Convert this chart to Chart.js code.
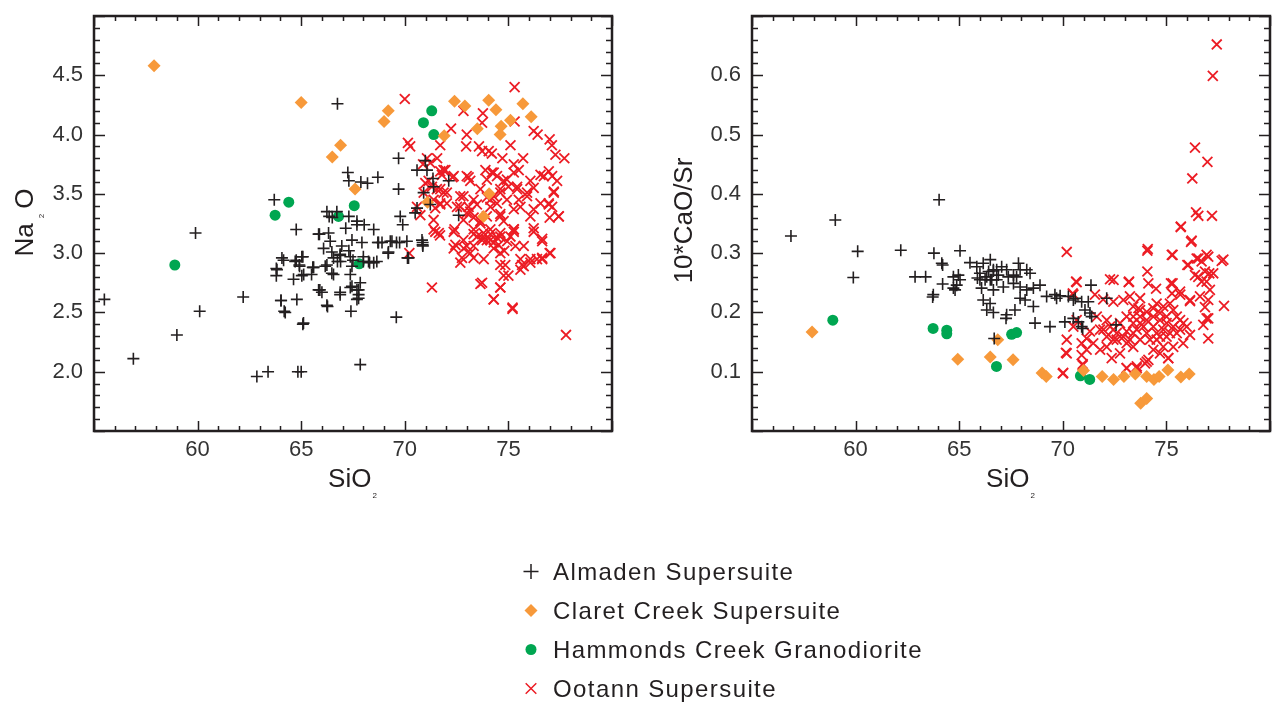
<!DOCTYPE html>
<html>
<head>
<meta charset="utf-8">
<title>SiO2 variation diagrams</title>
<style>
  body { margin: 0; width: 1273px; height: 702px; overflow: hidden; position: relative; background: #fff;
         font-family: "Liberation Sans", Arial, sans-serif; }
  .panel { position: absolute; top: 0; }
  #legend { position: absolute; left: 515px; top: 552px; }
  .item { height: 39px; display: flex; align-items: center; font-size: 24px; letter-spacing: 1.4px; color: #231f20; }
  .item canvas { width: 32px; height: 39px; margin-right: 6px; }
</style>
</head>
<body>
<div class="panel" style="left:0"><canvas id="naChart" width="640" height="500"></canvas></div>
<div class="panel" style="left:640px"><canvas id="srChart" width="633" height="500"></canvas></div>
<div id="legend"></div>

<script src="https://cdn.jsdelivr.net/npm/chart.js"></script>
<script>
// SiO2 vs Na2O
const naAlmaden = [
  [55.5,2.61],[56.9,2.11],[59.0,2.31],[60.1,2.51],[59.9,3.17],[62.2,2.63],[62.86,1.96],[63.4,2.0],[64.84,2.0],[65.0,2.0],
  [63.8,2.87],[63.8,2.81],[64.07,2.96],[64.15,2.94],[64.03,2.60],[64.18,2.51],[64.76,2.94],[64.92,2.89],[65.08,2.97],[64.63,2.78],
  [64.79,2.61],[65.08,2.40],[65.03,2.81],[65.5,2.82],[65.56,2.88],[65.84,2.69],[65.84,3.16],[63.7,3.45],[64.76,3.20],
  [69.59,2.46],[67.85,2.06],[67.4,2.51],[66.27,2.55],[66.88,2.65],[67.69,2.61],[67.77,2.65],[67.77,2.69],[65.9,2.69],[66.0,2.67],
  [70.13,2.96],[70.86,3.07],[70.86,3.09],[69.6,3.09],[69.3,3.10],[68.7,3.09],[68.9,3.09],[69.2,3.0],[68.3,2.92],[68.65,2.93],[68.0,2.93],
  [67.45,2.89],[66.56,2.96],[66.88,2.99],[66.9,2.93],[66.16,2.89],[66.48,2.83],[65.6,2.88],[67.85,2.75],[67.37,2.71],
  [66.75,4.26],[69.7,3.80],[67.25,3.68],[67.3,3.61],[67.88,3.60],[68.2,3.59],[68.7,3.64],[69.7,3.54],
  [66.24,3.35],[66.72,3.35],[66.35,3.31],[66.5,3.30],[67.3,3.31],[67.69,3.27],[67.69,3.24],[68.04,3.24],[68.5,3.20],[67.15,3.21],
  [65.88,3.16],[66.32,3.17],[66.4,3.10],[67.45,3.11],[67.93,3.09],[66.08,3.04],[66.96,3.06],[67.3,3.02],
  [68.73,3.09],[69.38,3.10],[69.75,3.09],[70.1,3.10],[70.83,3.11],[70.87,3.06],[69.21,3.01],[70.18,2.96],
  [66.48,3.01],[66.88,2.98],[66.75,2.93],[67.37,2.97],[67.5,2.94],[68.0,2.97],[68.25,2.93],[68.5,2.92],
  [64.71,2.93],[65.03,2.97],[64.91,2.90],[63.83,2.86],[65.12,2.82],[66.24,2.90],[66.56,2.82],[67.37,2.82],[67.45,2.72],[67.69,2.69],[67.77,2.62],
  [66.88,2.67],[66.24,2.56],[64.02,2.60],[64.23,2.50],[65.11,2.41],
  [70.99,3.78],[70.59,3.70],[71.07,3.70],[71.36,3.63],[71.39,3.56],[72.12,3.61],[70.91,3.51],[71.23,3.41],[70.59,3.38],[70.5,3.34],
  [69.78,3.31],[69.9,3.24],[72.6,3.32]
];
const naClaret = [
  [57.9,4.58],[65.0,4.27],[69.2,4.20],[69.0,4.11],[66.9,3.91],[66.5,3.81],[67.6,3.54],[72.4,4.28],[72.9,4.24],[74.05,4.29],
  [74.4,4.21],[75.7,4.26],[76.1,4.15],[75.1,4.12],[74.65,4.07],[74.6,4.0],[73.5,4.05],[71.9,3.99],[74.07,3.50],[73.8,3.31],[71.1,3.43]
];
const naHammonds = [
  [58.9,2.90],[63.74,3.32],[64.4,3.43],[67.56,3.40],[66.8,3.31],[67.8,2.91],[71.3,4.20],[70.9,4.10],[71.4,4.00]
];
const naOotann = [
  [75.3,4.40],[70.0,4.30],[72.83,4.20],[73.77,4.18],[73.73,4.10],[72.23,4.05],[72.99,4.0],[72.96,3.90],[71.71,3.91],[70.15,3.93],[70.26,3.90],
  [73.58,3.90],[73.73,3.86],[74.05,3.86],[74.2,3.84],[75.1,3.91],[75.3,4.11],[76.22,4.03],[76.41,4.0],[76.99,3.96],[77.1,3.91],[77.27,3.83],[77.7,3.80],
  [74.71,3.80],[75.26,3.75],[75.71,3.80],[75.5,3.70],[75.26,3.68],[71.07,3.80],[71.56,3.80],[71.23,3.76],
  [73.89,3.70],[74.2,3.68],[74.45,3.65],[73.96,3.62],[72.99,3.65],[73.16,3.61],[71.87,3.70],[72.36,3.65],[71.79,3.66],
  [76.55,3.66],[76.95,3.69],[77.11,3.65],[77.35,3.61],[77.19,3.52],[76.06,3.61],[76.22,3.55],[75.9,3.51],
  [74.77,3.61],[75.0,3.56],[75.42,3.54],[74.61,3.51],[74.93,3.45],[75.5,3.45],[75.58,3.39],[75.26,3.37],
  [76.55,3.42],[76.95,3.42],[77.11,3.39],[76.99,3.30],[77.43,3.31],[76.22,3.37],[76.06,3.31],[76.22,3.21],[76.63,3.10],
  [73.96,3.47],[74.29,3.48],[74.45,3.42],[74.13,3.39],[73.32,3.45],[73.48,3.41],[73.08,3.39],
  [72.68,3.48],[72.52,3.39],[72.03,3.42],[71.87,3.51],[71.55,3.54],[71.31,3.56],[70.99,3.59],[70.91,3.51],[71.39,3.45],[71.71,3.42],
  [71.47,3.38],[70.59,3.39],[70.75,3.32],
  [72.99,3.34],[72.83,3.28],[73.32,3.30],[73.65,3.27],[73.96,3.31],[74.61,3.33],[74.77,3.27],[75.26,3.20],[75.1,3.14],
  [71.39,3.20],[72.36,3.18],[73.32,3.20],[73.8,3.17],[74.13,3.20],[74.45,3.13],[73.73,3.11],[72.83,3.11],
  [71.47,3.18],[71.7,3.15],[73.32,3.16],[73.73,3.13],[73.96,3.11],[74.13,3.16],[74.29,3.09],[74.61,3.14],[74.53,3.07],[74.94,3.10],
  [75.26,3.18],[76.22,3.18],
  [72.99,3.06],[73.16,3.0],[72.76,2.96],[72.68,2.92],[73.32,2.96],[73.81,2.95],[74.29,3.04],[74.61,3.0],[74.8,3.02],
  [75.34,3.06],[75.74,3.06],[75.58,2.95],[75.66,2.90],[75.58,2.86],[76.06,2.95],[76.38,2.95],[76.63,2.96],[76.99,3.0],[76.63,3.12],
  [74.61,2.90],[74.85,2.90],[74.77,2.81],[75.0,2.81],[74.61,2.71],[73.73,2.75],[74.29,2.61],[75.2,2.53],[71.31,2.71],[70.22,3.00],
  [77.78,2.31],[72.36,3.04],[72.4,3.20],
  [70.88,3.75],[71.15,3.61],[71.71,3.69],[71.96,3.70],[72.3,3.64],[71.71,3.54],[72.03,3.51],[71.71,3.41],[71.39,3.28],[71.64,3.17],
  [72.83,3.48],[73.08,3.64],[74.29,3.68],[74.93,3.62],[75.42,3.56],[75.9,3.48],[76.71,3.65],[76.95,3.41],[77.19,3.51],[77.43,3.31],
  [77.03,3.0],[76.63,2.95],[76.06,2.92],[75.74,2.89],[73.65,2.74],[74.61,2.71],[74.29,2.61],[75.2,2.54],
  [72.84,3.04],[72.44,3.07],[73.32,3.06],[73.49,3.14],[74.13,3.11],[74.61,3.17],[75.26,3.20],[74.61,3.31],[73.65,3.25],[73.16,3.35],
  [74.13,3.45],[74.61,3.54],[73.65,3.54],[72.68,3.39]
];

// SiO2 vs 10*CaO/Sr
const srAlmaden = [
  [56.88,0.329],[59.02,0.356],[60.1,0.303],[59.89,0.259],[62.18,0.305],[64.03,0.390],[63.78,0.300],[65.04,0.304],[64.16,0.283],[64.2,0.280],[65.52,0.284],
  [62.87,0.260],[63.38,0.260],[64.2,0.248],[64.72,0.260],[64.96,0.263],[65.04,0.255],[64.88,0.246],[64.72,0.241],[64.8,0.238],[63.75,0.230],[63.72,0.226],
  [66.0,0.266],[66.0,0.255],[66.33,0.260],[66.5,0.289],[66.65,0.272],[66.81,0.272],[66.5,0.255],[66.81,0.255],[66.08,0.241],
  [66.16,0.221],[66.49,0.215],[66.33,0.204],[66.65,0.200],[65.85,0.277],[66.16,0.283],
  [65.88,0.258],[66.25,0.255],[66.42,0.269],[66.65,0.270],[66.89,0.263],[67.05,0.277],[67.29,0.272],[67.37,0.260],[67.62,0.263],[67.86,0.283],
  [67.94,0.272],[68.26,0.272],[68.42,0.266],[67.77,0.260],[66.57,0.255],[66.65,0.238],[67.13,0.243],[67.62,0.249],[67.94,0.243],[68.26,0.238],
  [68.58,0.241],[68.9,0.246],
  [67.29,0.196],[67.26,0.190],[67.69,0.204],[67.94,0.224],[68.18,0.221],[68.58,0.210],[68.66,0.182],[69.38,0.176],
  [69.22,0.227],[69.62,0.230],[69.7,0.224],[69.87,0.228],[70.27,0.227],[70.51,0.221],[70.6,0.224],[70.91,0.218],[71.23,0.218],
  [70.1,0.184],[70.51,0.190],[70.75,0.184],[70.91,0.176],[70.96,0.173],[71.07,0.204],[71.31,0.199],[71.39,0.193],[71.36,0.246],
  [72.12,0.224],[72.57,0.179],[66.69,0.156]
];
const srClaret = [
  [57.9,0.167],[64.93,0.121],[66.5,0.125],[66.86,0.154],[67.6,0.12],[69.0,0.098],[69.2,0.092],[71.0,0.102],[71.9,0.092],[72.45,0.087],
  [72.95,0.092],[73.5,0.096],[74.05,0.092],[74.4,0.087],[74.65,0.092],[75.07,0.103],[75.7,0.091],[76.1,0.096],[73.76,0.047],[74.05,0.055]
];
const srHammonds = [
  [58.9,0.187],[63.74,0.173],[64.4,0.170],[64.4,0.164],[67.53,0.163],[67.77,0.166],[66.8,0.109],[70.85,0.093],[71.3,0.087]
];
const srOotann = [
  [77.43,0.652],[77.24,0.599],[76.38,0.478],[76.98,0.454],[76.25,0.426],[76.43,0.369],[76.54,0.363],[77.2,0.363],[75.69,0.344],[76.22,0.321],
  [74.1,0.307],[70.19,0.302],
  [75.7,0.345],[76.19,0.319],[74.08,0.304],[75.3,0.297],[76.06,0.280],[76.54,0.291],[76.7,0.286],[77.02,0.294],[77.67,0.287],[76.38,0.263],
  [76.86,0.269],[77.26,0.266],[76.94,0.252],[76.7,0.252],[77.1,0.238],[76.62,0.227],[77.02,0.221],[76.86,0.209],[77.78,0.211],[77.02,0.190],
  [76.78,0.179],[77.02,0.156],
  [74.08,0.269],[74.13,0.249],[74.5,0.240],[75.3,0.249],[75.27,0.232],[75.67,0.230],[76.14,0.219],
  [72.45,0.255],[73.18,0.251],[70.67,0.251],[71.55,0.230],[71.95,0.222],[72.44,0.218],[72.92,0.221],[73.24,0.227],[73.73,0.224],[73.65,0.207],[70.51,0.230],
  [71.64,0.193],[72.12,0.187],[72.28,0.176],[71.8,0.171],[71.31,0.168],[71.15,0.156],[71.47,0.148],[71.8,0.137],[72.12,0.142],[72.44,0.154],
  [72.6,0.165],[73.08,0.168],[73.4,0.182],[73.73,0.193],[74.05,0.201],[74.37,0.207],[74.69,0.199],[75.01,0.193],[75.33,0.204],[75.66,0.187],
  [75.98,0.176],[76.14,0.162],[75.5,0.165],[75.01,0.159],[74.53,0.154],[74.05,0.165],[73.73,0.154],[73.4,0.142],[73.08,0.148],[72.76,0.131],
  [72.36,0.123],[74.13,0.120],[73.97,0.114],[73.57,0.106],[73.08,0.106],[75.09,0.123],[74.69,0.131],[74.37,0.137],[74.85,0.142],[75.33,0.142],
  [75.81,0.148],
  [70.19,0.154],[70.19,0.131],[70.0,0.097],[70.67,0.187],[70.51,0.176],[70.91,0.128],[70.96,0.113],[70.91,0.148],[71.15,0.137],
  [73.4,0.193],[73.73,0.182],[74.37,0.193],[74.69,0.187],[75.01,0.182],[75.33,0.176],[74.37,0.176],[74.05,0.187],[73.4,0.165],[72.6,0.154],
  [72.92,0.159],[73.89,0.176],[74.85,0.171],[75.17,0.165],[74.53,0.165],[75.66,0.171],[75.82,0.182],[75.5,0.193],[74.85,0.210],[75.17,0.215],
  [74.53,0.215],[73.73,0.204],[73.4,0.210],[73.08,0.193],[72.76,0.182],[72.12,0.159],[71.96,0.171],[72.44,0.171],[73.24,0.154],[73.57,0.171],
  [74.21,0.154],[74.69,0.159],
  [70.64,0.252],[70.15,0.132],[70.02,0.098],[70.96,0.111],[70.48,0.232],[72.28,0.256],[73.2,0.252],[75.26,0.297],[75.22,0.249],[75.66,0.235],
  [76.01,0.280],[76.46,0.291],[76.94,0.297],[76.54,0.260],[77.07,0.266],[77.75,0.289],[76.94,0.190],[76.14,0.221],[75.09,0.123],[74.05,0.117],
  [73.08,0.106],[73.57,0.109]
];

const seriesNames = ['Almaden Supersuite', 'Claret Creek Supersuite', 'Hammonds Creek Granodiorite', 'Ootann Supersuite'];
const xTickLabels = [60, 65, 70, 75];
const naTickLabels = [2.0, 2.5, 3.0, 3.5, 4.0, 4.5];
const srTickLabels = [0.1, 0.2, 0.3, 0.4, 0.5, 0.6];

const INK = '#231f20';
const markers = [
  { pointStyle: 'cross', radius: 6, borderWidth: 1.6, color: INK },
  { pointStyle: 'rectRot', radius: 6.5, borderWidth: 0, color: '#f7993a' },
  { pointStyle: 'circle', radius: 5.5, borderWidth: 0, color: '#00a651' },
  { pointStyle: 'crossRot', radius: 7, borderWidth: 1.8, color: '#ec1c24' }
];

const TITLE_FONT = '26px "Liberation Sans", Arial, sans-serif';
const SUB_FONT = '8px "Liberation Sans", Arial, sans-serif';

function makeDatasets(groups) {
  return groups.map((pts, i) => {
    const m = markers[i];
    return {
      label: seriesNames[i],
      data: pts.map(([x, y]) => ({ x, y })),
      pointStyle: m.pointStyle,
      pointRadius: m.radius,
      pointHoverRadius: m.radius,
      pointBorderWidth: m.borderWidth,
      borderColor: m.color,
      backgroundColor: m.color
    };
  });
}

function hasTick(list, v) {
  return list.some(t => Math.abs(t - v) < 1e-6);
}

// frame box with inward major/minor ticks on all four sides
const frameTicks = {
  id: 'frameTicks',
  afterDatasetsDraw(chart, args, o) {
    const { ctx, chartArea: a, scales: { x, y } } = chart;
    ctx.save();
    ctx.strokeStyle = INK;
    ctx.lineWidth = 1.5;
    ctx.beginPath();
    const nx = Math.round((x.max - x.min) / o.xMinor);
    for (let i = 0; i <= nx; i++) {
      const v = x.min + i * o.xMinor;
      const r = v / o.xMajor;
      const len = Math.abs(r - Math.round(r)) < 1e-6 ? 10 : 5;
      const px = Math.round(x.getPixelForValue(v)) + 0.5;
      ctx.moveTo(px, a.bottom); ctx.lineTo(px, a.bottom - len);
      ctx.moveTo(px, a.top); ctx.lineTo(px, a.top + len);
    }
    const ny = Math.round((y.max - y.min) / o.yMinor);
    for (let i = 0; i <= ny; i++) {
      const v = y.min + i * o.yMinor;
      const r = v / o.yMajor;
      const len = Math.abs(r - Math.round(r)) < 1e-6 ? 11 : 6;
      const py = Math.round(y.getPixelForValue(v)) + 0.5;
      ctx.moveTo(a.left, py); ctx.lineTo(a.left + len, py);
      ctx.moveTo(a.right, py); ctx.lineTo(a.right - len, py);
    }
    ctx.stroke();
    ctx.lineWidth = 2.5;
    ctx.strokeRect(a.left, a.top, a.right - a.left, a.bottom - a.top);
    ctx.restore();
  }
};

function drawParts(ctx, parts, cx, base) {
  const widths = parts.map(p => {
    ctx.font = p.sub ? SUB_FONT : TITLE_FONT;
    return ctx.measureText(p.t).width + (p.pad || 0) * 2;
  });
  let x = cx - widths.reduce((s, w) => s + w, 0) / 2;
  ctx.textAlign = 'left';
  ctx.textBaseline = 'alphabetic';
  parts.forEach((p, i) => {
    ctx.font = p.sub ? SUB_FONT : TITLE_FONT;
    ctx.fillText(p.t, x + (p.pad || 0), base + (p.sub ? 11 : 0));
    x += widths[i];
  });
}

// axis titles with chemical subscripts
const axisTitles = {
  id: 'axisTitles',
  afterDraw(chart, args, o) {
    const { ctx, chartArea: a } = chart;
    ctx.save();
    ctx.fillStyle = INK;
    drawParts(ctx, o.x, (a.left + a.right) / 2, o.xBaseline);
    ctx.translate(o.yBaseline, (a.top + a.bottom) / 2 + (o.yShift || 0));
    ctx.rotate(-Math.PI / 2);
    drawParts(ctx, o.y, 0, 0);
    ctx.restore();
  }
};

const tickFont = { family: '"Liberation Sans", Arial, sans-serif', size: 22 };

function scatterConfig(groups, yRange, yLabels, yStep, pads, yAxisWidth, titles, tickSteps) {
  return {
    type: 'scatter',
    data: { datasets: makeDatasets(groups) },
    options: {
      responsive: false,
      animation: false,
      events: [],
      layout: { autoPadding: false, padding: { top: 16, right: pads.right, left: 0, bottom: 0 } },
      plugins: {
        legend: { display: false },
        tooltip: { enabled: false },
        frameTicks: tickSteps,
        axisTitles: titles
      },
      scales: {
        x: {
          type: 'linear', min: 55, max: 80,
          afterFit(s) { s.height = 69; s.paddingLeft = 0; s.paddingRight = 0; },
          grid: { display: false, drawTicks: false },
          border: { display: false },
          ticks: {
            stepSize: 5, padding: 6, color: '#333', font: tickFont, maxRotation: 0,
            callback: v => hasTick(xTickLabels, v) ? String(v) : null
          }
        },
        y: {
          type: 'linear', min: yRange[0], max: yRange[1],
          afterFit(s) { s.width = yAxisWidth; s.paddingTop = 0; s.paddingBottom = 0; },
          grid: { display: false, drawTicks: false },
          border: { display: false },
          ticks: {
            stepSize: yStep, padding: 11, color: '#333', font: tickFont,
            callback: v => hasTick(yLabels, v) ? v.toFixed(1) : null
          }
        }
      }
    },
    plugins: [frameTicks, axisTitles]
  };
}

new Chart(document.getElementById('naChart'), scatterConfig(
  [naAlmaden, naClaret, naHammonds, naOotann], [1.5, 5.0], naTickLabels, 0.5,
  { right: 28 }, 94,
  { x: [{ t: 'SiO' }, { t: '2', sub: true, pad: 1 }], xBaseline: 487,
    y: [{ t: 'Na' }, { t: '2', sub: true, pad: 5 }, { t: 'O' }], yBaseline: 33, yShift: -1 },
  { xMinor: 1, xMajor: 5, yMinor: 0.1, yMajor: 0.5 }
));

new Chart(document.getElementById('srChart'), scatterConfig(
  [srAlmaden, srClaret, srHammonds, srOotann], [0, 0.7], srTickLabels, 0.1,
  { right: 3 }, 112,
  { x: [{ t: 'SiO' }, { t: '2', sub: true, pad: 1 }], xBaseline: 487,
    y: [{ t: '10*CaO/Sr' }], yBaseline: 52, yShift: -3 },
  { xMinor: 1, xMajor: 5, yMinor: 0.02, yMajor: 0.1 }
));

// legend rows, markers drawn with the same point styles as the plots
const legendMarkers = [
  { pointStyle: 'cross', radius: 7.5, borderWidth: 1.5 },
  { pointStyle: 'rectRot', radius: 6.5, borderWidth: 0 },
  { pointStyle: 'circle', radius: 5.5, borderWidth: 0 },
  { pointStyle: 'crossRot', radius: 7.5, borderWidth: 1.5 }
];
const legendEl = document.getElementById('legend');
seriesNames.forEach((name, i) => {
  const row = document.createElement('div');
  row.className = 'item';
  const c = document.createElement('canvas');
  c.width = 32; c.height = 39;
  const g = c.getContext('2d');
  g.strokeStyle = markers[i].color;
  g.fillStyle = markers[i].color;
  g.lineWidth = legendMarkers[i].borderWidth;
  Chart.helpers.drawPoint(g, { rotation: 0, ...legendMarkers[i] }, 16, 19.5);
  const span = document.createElement('span');
  span.textContent = name;
  row.appendChild(c);
  row.appendChild(span);
  legendEl.appendChild(row);
});
</script>
</body>
</html>
